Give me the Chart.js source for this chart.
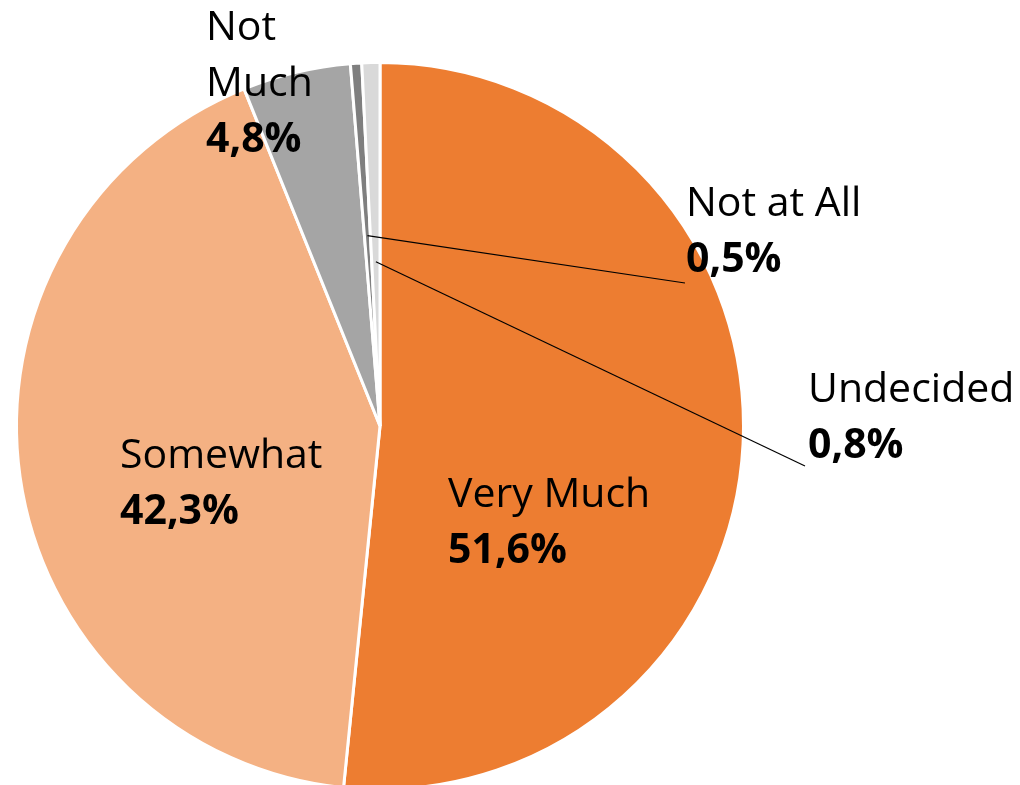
<!DOCTYPE html>
<html>
<head>
<meta charset="utf-8">
<script src="https://cdn.jsdelivr.net/npm/chart.js@4"></script>
<style>
  html, body { margin: 0; padding: 0; background: #fff; }
  #wrap { width: 1020px; height: 785px; overflow: hidden; }
</style>
</head>
<body>
<div id="wrap"><canvas id="chart1" width="1020" height="800"></canvas></div>
<script>
var categories = ['Very Much', 'Somewhat', 'Not Much', 'Not at All', 'Undecided'];
var shares = [51.6, 42.3, 4.8, 0.5, 0.8];
var valueLabels = ['51,6%', '42,3%', '4,8%', '0,5%', '0,8%'];
var sliceColors = ['#ED7D31', '#F4B183', '#A5A5A5', '#7F7F7F', '#D9D9D9'];

// where each label block goes: left x and first baseline; leader = radius fraction where the line starts
var labelPlace = [
  { lines: ['Very Much'], x: 448, y: 507 },
  { lines: ['Somewhat'], x: 120, y: 468 },
  { lines: ['Not', 'Much'], x: 206, y: 40 },
  { lines: ['Not at All'], x: 686, y: 216, leader: 0.525, to: [685, 283] },
  { lines: ['Undecided'], x: 808, y: 402, leader: 0.452, to: [805, 466] }
];
var lineGap = 56;

var pieLabels = {
  id: 'pieLabels',
  afterDatasetsDraw: function(chart) {
    var ctx = chart.ctx;
    var arcs = chart.getDatasetMeta(0).data;
    ctx.save();
    ctx.fillStyle = '#000';
    ctx.textBaseline = 'alphabetic';
    ctx.textAlign = 'left';
    for (var i = 0; i < arcs.length; i++) {
      var p = labelPlace[i];
      var a = arcs[i];
      if (p.leader) {
        var mid = (a.startAngle + a.endAngle) / 2;
        var r = a.outerRadius * p.leader;
        ctx.beginPath();
        ctx.strokeStyle = '#000';
        ctx.lineWidth = 1.2;
        ctx.moveTo(a.x + Math.cos(mid) * r, a.y + Math.sin(mid) * r);
        ctx.lineTo(p.to[0], p.to[1]);
        ctx.stroke();
      }
      ctx.font = '41px "Open Sans"';
      var y = p.y;
      for (var j = 0; j < p.lines.length; j++) {
        ctx.fillText(p.lines[j], p.x, y);
        y += lineGap;
      }
      ctx.font = 'bold 41px "Open Sans"';
      ctx.fillText(valueLabels[i], p.x, y);
    }
    ctx.restore();
  }
};

var ctx = document.getElementById('chart1').getContext('2d');
var myChart = new Chart(ctx, {
  type: 'pie',
  data: {
    labels: categories,
    datasets: [{
      data: shares,
      backgroundColor: sliceColors,
      borderColor: '#ffffff',
      borderWidth: 3
    }]
  },
  options: {
    responsive: false,
    animation: false,
    layout: { padding: { left: 15, top: 61, right: 275, bottom: 9 } },
    plugins: {
      legend: { display: false },
      tooltip: { enabled: false }
    }
  },
  plugins: [pieLabels]
});
</script>
</body>
</html>
